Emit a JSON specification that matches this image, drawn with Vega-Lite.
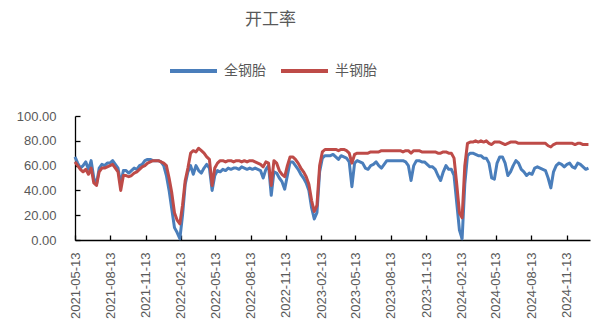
{
  "$schema": "https://vega.github.io/schema/vega-lite/v6.json",
  "width": 515,
  "height": 124,
  "autosize": {"type": "none"},
  "padding": {"left": 75, "top": 116, "right": 2, "bottom": 87},
  "background": "white",
  "title": {"text": "开工率", "frame": "group", "anchor": "middle", "dx": -62, "offset": 16, "font": "Noto Sans CJK SC", "fontSize": 17, "fontWeight": "normal", "color": "#595959"},
  "data": {"values": [
    {"date": "2021-05-13", "全钢胎": 67, "半钢胎": 63},
    {"date": "2021-05-20", "全钢胎": 62, "半钢胎": 60},
    {"date": "2021-05-27", "全钢胎": 58, "半钢胎": 57},
    {"date": "2021-06-03", "全钢胎": 60, "半钢胎": 55},
    {"date": "2021-06-10", "全钢胎": 63, "半钢胎": 57},
    {"date": "2021-06-17", "全钢胎": 57, "半钢胎": 53},
    {"date": "2021-06-24", "全钢胎": 64, "半钢胎": 58},
    {"date": "2021-07-01", "全钢胎": 50, "半钢胎": 46},
    {"date": "2021-07-08", "全钢胎": 45, "半钢胎": 44},
    {"date": "2021-07-15", "全钢胎": 58, "半钢胎": 55},
    {"date": "2021-07-22", "全钢胎": 61, "半钢胎": 58},
    {"date": "2021-07-29", "全钢胎": 60, "半钢胎": 58},
    {"date": "2021-08-05", "全钢胎": 62, "半钢胎": 59},
    {"date": "2021-08-12", "全钢胎": 62, "半钢胎": 60},
    {"date": "2021-08-19", "全钢胎": 64, "半钢胎": 61},
    {"date": "2021-08-26", "全钢胎": 61, "半钢胎": 58},
    {"date": "2021-09-02", "全钢胎": 58, "半钢胎": 55},
    {"date": "2021-09-09", "全钢胎": 45, "半钢胎": 40},
    {"date": "2021-09-16", "全钢胎": 56, "半钢胎": 52},
    {"date": "2021-09-23", "全钢胎": 56, "半钢胎": 52},
    {"date": "2021-09-30", "全钢胎": 54, "半钢胎": 51},
    {"date": "2021-10-07", "全钢胎": 56, "半钢胎": 52},
    {"date": "2021-10-14", "全钢胎": 58, "半钢胎": 54},
    {"date": "2021-10-21", "全钢胎": 57, "半钢胎": 55},
    {"date": "2021-10-28", "全钢胎": 60, "半钢胎": 57},
    {"date": "2021-11-04", "全钢胎": 61, "半钢胎": 59},
    {"date": "2021-11-11", "全钢胎": 64, "半钢胎": 60},
    {"date": "2021-11-18", "全钢胎": 65, "半钢胎": 62},
    {"date": "2021-11-25", "全钢胎": 65, "半钢胎": 63},
    {"date": "2021-12-02", "全钢胎": 64, "半钢胎": 64},
    {"date": "2021-12-09", "全钢胎": 64, "半钢胎": 64},
    {"date": "2021-12-16", "全钢胎": 64, "半钢胎": 64},
    {"date": "2021-12-23", "全钢胎": 63, "半钢胎": 63},
    {"date": "2021-12-30", "全钢胎": 60, "半钢胎": 62},
    {"date": "2022-01-06", "全钢胎": 52, "半钢胎": 60},
    {"date": "2022-01-13", "全钢胎": 40, "半钢胎": 50},
    {"date": "2022-01-20", "全钢胎": 25, "半钢胎": 38},
    {"date": "2022-01-27", "全钢胎": 10, "半钢胎": 22},
    {"date": "2022-02-03", "全钢胎": 6, "半钢胎": 16},
    {"date": "2022-02-10", "全钢胎": 1, "半钢胎": 13},
    {"date": "2022-02-17", "全钢胎": 20, "半钢胎": 28},
    {"date": "2022-02-24", "全钢胎": 45, "半钢胎": 48},
    {"date": "2022-03-03", "全钢胎": 55, "半钢胎": 58},
    {"date": "2022-03-10", "全钢胎": 60, "半钢胎": 70},
    {"date": "2022-03-17", "全钢胎": 53, "半钢胎": 72},
    {"date": "2022-03-24", "全钢胎": 60, "半钢胎": 71},
    {"date": "2022-03-31", "全钢胎": 56, "半钢胎": 74},
    {"date": "2022-04-07", "全钢胎": 54, "半钢胎": 72},
    {"date": "2022-04-14", "全钢胎": 58, "半钢胎": 70},
    {"date": "2022-04-21", "全钢胎": 61, "半钢胎": 67},
    {"date": "2022-04-28", "全钢胎": 58, "半钢胎": 65},
    {"date": "2022-05-05", "全钢胎": 40, "半钢胎": 44},
    {"date": "2022-05-12", "全钢胎": 52, "半钢胎": 58},
    {"date": "2022-05-19", "全钢胎": 56, "半钢胎": 62},
    {"date": "2022-05-26", "全钢胎": 55, "半钢胎": 64},
    {"date": "2022-06-02", "全钢胎": 57, "半钢胎": 64},
    {"date": "2022-06-09", "全钢胎": 56, "半钢胎": 63},
    {"date": "2022-06-16", "全钢胎": 58, "半钢胎": 64},
    {"date": "2022-06-23", "全钢胎": 57, "半钢胎": 64},
    {"date": "2022-06-30", "全钢胎": 58, "半钢胎": 63},
    {"date": "2022-07-07", "全钢胎": 58, "半钢胎": 64},
    {"date": "2022-07-14", "全钢胎": 57, "半钢胎": 64},
    {"date": "2022-07-21", "全钢胎": 59, "半钢胎": 63},
    {"date": "2022-07-28", "全钢胎": 58, "半钢胎": 64},
    {"date": "2022-08-04", "全钢胎": 57, "半钢胎": 63},
    {"date": "2022-08-11", "全钢胎": 58, "半钢胎": 64},
    {"date": "2022-08-18", "全钢胎": 57, "半钢胎": 64},
    {"date": "2022-08-25", "全钢胎": 58, "半钢胎": 63},
    {"date": "2022-09-01", "全钢胎": 57, "半钢胎": 62},
    {"date": "2022-09-08", "全钢胎": 56, "半钢胎": 61},
    {"date": "2022-09-15", "全钢胎": 50, "半钢胎": 59},
    {"date": "2022-09-22", "全钢胎": 57, "半钢胎": 63},
    {"date": "2022-09-29", "全钢胎": 60, "半钢胎": 62},
    {"date": "2022-10-06", "全钢胎": 36, "半钢胎": 44},
    {"date": "2022-10-13", "全钢胎": 55, "半钢胎": 64},
    {"date": "2022-10-20", "全钢胎": 54, "半钢胎": 62},
    {"date": "2022-10-27", "全钢胎": 50, "半钢胎": 56},
    {"date": "2022-11-03", "全钢胎": 47, "半钢胎": 53},
    {"date": "2022-11-10", "全钢胎": 41, "半钢胎": 51},
    {"date": "2022-11-17", "全钢胎": 52, "半钢胎": 60},
    {"date": "2022-11-24", "全钢胎": 63, "半钢胎": 67},
    {"date": "2022-12-01", "全钢胎": 63, "半钢胎": 67},
    {"date": "2022-12-08", "全钢胎": 60, "半钢胎": 65},
    {"date": "2022-12-15", "全钢胎": 57, "半钢胎": 62},
    {"date": "2022-12-22", "全钢胎": 53, "半钢胎": 58},
    {"date": "2022-12-29", "全钢胎": 50, "半钢胎": 55},
    {"date": "2023-01-05", "全钢胎": 46, "半钢胎": 51},
    {"date": "2023-01-12", "全钢胎": 40, "半钢胎": 45},
    {"date": "2023-01-19", "全钢胎": 26, "半钢胎": 32},
    {"date": "2023-01-26", "全钢胎": 17, "半钢胎": 23},
    {"date": "2023-02-02", "全钢胎": 22, "半钢胎": 28},
    {"date": "2023-02-09", "全钢胎": 55, "半钢胎": 60},
    {"date": "2023-02-16", "全钢胎": 66, "半钢胎": 71},
    {"date": "2023-02-23", "全钢胎": 68, "半钢胎": 73},
    {"date": "2023-03-02", "全钢胎": 68, "半钢胎": 73},
    {"date": "2023-03-09", "全钢胎": 68, "半钢胎": 73},
    {"date": "2023-03-16", "全钢胎": 69, "半钢胎": 73},
    {"date": "2023-03-23", "全钢胎": 67, "半钢胎": 73},
    {"date": "2023-03-30", "全钢胎": 65, "半钢胎": 72},
    {"date": "2023-04-06", "全钢胎": 68, "半钢胎": 73},
    {"date": "2023-04-13", "全钢胎": 67, "半钢胎": 73},
    {"date": "2023-04-20", "全钢胎": 66, "半钢胎": 72},
    {"date": "2023-04-27", "全钢胎": 63, "半钢胎": 70},
    {"date": "2023-05-04", "全钢胎": 43, "半钢胎": 62},
    {"date": "2023-05-11", "全钢胎": 62, "半钢胎": 69},
    {"date": "2023-05-18", "全钢胎": 64, "半钢胎": 70},
    {"date": "2023-05-25", "全钢胎": 63, "半钢胎": 70},
    {"date": "2023-06-01", "全钢胎": 62, "半钢胎": 70},
    {"date": "2023-06-08", "全钢胎": 58, "半钢胎": 70},
    {"date": "2023-06-15", "全钢胎": 57, "半钢胎": 70},
    {"date": "2023-06-22", "全钢胎": 60, "半钢胎": 71},
    {"date": "2023-06-29", "全钢胎": 61, "半钢胎": 71},
    {"date": "2023-07-06", "全钢胎": 63, "半钢胎": 71},
    {"date": "2023-07-13", "全钢胎": 60, "半钢胎": 71},
    {"date": "2023-07-20", "全钢胎": 58, "半钢胎": 72},
    {"date": "2023-07-27", "全钢胎": 61, "半钢胎": 72},
    {"date": "2023-08-03", "全钢胎": 64, "半钢胎": 72},
    {"date": "2023-08-10", "全钢胎": 64, "半钢胎": 72},
    {"date": "2023-08-17", "全钢胎": 64, "半钢胎": 72},
    {"date": "2023-08-24", "全钢胎": 64, "半钢胎": 72},
    {"date": "2023-08-31", "全钢胎": 64, "半钢胎": 72},
    {"date": "2023-09-07", "全钢胎": 64, "半钢胎": 72},
    {"date": "2023-09-14", "全钢胎": 64, "半钢胎": 71},
    {"date": "2023-09-21", "全钢胎": 63, "半钢胎": 72},
    {"date": "2023-09-28", "全钢胎": 60, "半钢胎": 72},
    {"date": "2023-10-05", "全钢胎": 48, "半钢胎": 70},
    {"date": "2023-10-12", "全钢胎": 60, "半钢胎": 72},
    {"date": "2023-10-19", "全钢胎": 64, "半钢胎": 72},
    {"date": "2023-10-26", "全钢胎": 64, "半钢胎": 72},
    {"date": "2023-11-02", "全钢胎": 63, "半钢胎": 71},
    {"date": "2023-11-09", "全钢胎": 63, "半钢胎": 71},
    {"date": "2023-11-16", "全钢胎": 61, "半钢胎": 71},
    {"date": "2023-11-23", "全钢胎": 59, "半钢胎": 71},
    {"date": "2023-11-30", "全钢胎": 59, "半钢胎": 71},
    {"date": "2023-12-07", "全钢胎": 57, "半钢胎": 71},
    {"date": "2023-12-14", "全钢胎": 52, "半钢胎": 70},
    {"date": "2023-12-21", "全钢胎": 48, "半钢胎": 70},
    {"date": "2023-12-28", "全钢胎": 55, "半钢胎": 71},
    {"date": "2024-01-04", "全钢胎": 60, "半钢胎": 71},
    {"date": "2024-01-11", "全钢胎": 57, "半钢胎": 70},
    {"date": "2024-01-18", "全钢胎": 57, "半钢胎": 70},
    {"date": "2024-01-25", "全钢胎": 52, "半钢胎": 66},
    {"date": "2024-02-01", "全钢胎": 30, "半钢胎": 45},
    {"date": "2024-02-08", "全钢胎": 8, "半钢胎": 22},
    {"date": "2024-02-15", "全钢胎": 1, "半钢胎": 18},
    {"date": "2024-02-22", "全钢胎": 45, "半钢胎": 60},
    {"date": "2024-02-29", "全钢胎": 68, "半钢胎": 78},
    {"date": "2024-03-07", "全钢胎": 70, "半钢胎": 79},
    {"date": "2024-03-14", "全钢胎": 70, "半钢胎": 79},
    {"date": "2024-03-21", "全钢胎": 69, "半钢胎": 80},
    {"date": "2024-03-28", "全钢胎": 68, "半钢胎": 79},
    {"date": "2024-04-04", "全钢胎": 68, "半钢胎": 80},
    {"date": "2024-04-11", "全钢胎": 66, "半钢胎": 79},
    {"date": "2024-04-18", "全钢胎": 66, "半钢胎": 80},
    {"date": "2024-04-25", "全钢胎": 62, "半钢胎": 78},
    {"date": "2024-05-02", "全钢胎": 50, "半钢胎": 77},
    {"date": "2024-05-09", "全钢胎": 49, "半钢胎": 79},
    {"date": "2024-05-16", "全钢胎": 62, "半钢胎": 79},
    {"date": "2024-05-23", "全钢胎": 67, "半钢胎": 79},
    {"date": "2024-05-30", "全钢胎": 67, "半钢胎": 78},
    {"date": "2024-06-06", "全钢胎": 62, "半钢胎": 77},
    {"date": "2024-06-13", "全钢胎": 52, "半钢胎": 78},
    {"date": "2024-06-20", "全钢胎": 55, "半钢胎": 79},
    {"date": "2024-06-27", "全钢胎": 60, "半钢胎": 79},
    {"date": "2024-07-04", "全钢胎": 64, "半钢胎": 79},
    {"date": "2024-07-11", "全钢胎": 62, "半钢胎": 78},
    {"date": "2024-07-18", "全钢胎": 57, "半钢胎": 78},
    {"date": "2024-07-25", "全钢胎": 55, "半钢胎": 78},
    {"date": "2024-08-01", "全钢胎": 52, "半钢胎": 78},
    {"date": "2024-08-08", "全钢胎": 54, "半钢胎": 78},
    {"date": "2024-08-15", "全钢胎": 53, "半钢胎": 78},
    {"date": "2024-08-22", "全钢胎": 58, "半钢胎": 78},
    {"date": "2024-08-29", "全钢胎": 59, "半钢胎": 78},
    {"date": "2024-09-05", "全钢胎": 58, "半钢胎": 78},
    {"date": "2024-09-12", "全钢胎": 57, "半钢胎": 78},
    {"date": "2024-09-19", "全钢胎": 56, "半钢胎": 78},
    {"date": "2024-09-26", "全钢胎": 50, "半钢胎": 76},
    {"date": "2024-10-03", "全钢胎": 42, "半钢胎": 75},
    {"date": "2024-10-10", "全钢胎": 55, "半钢胎": 77},
    {"date": "2024-10-17", "全钢胎": 60, "半钢胎": 78},
    {"date": "2024-10-24", "全钢胎": 62, "半钢胎": 78},
    {"date": "2024-10-31", "全钢胎": 61, "半钢胎": 78},
    {"date": "2024-11-07", "全钢胎": 59, "半钢胎": 78},
    {"date": "2024-11-14", "全钢胎": 61, "半钢胎": 78},
    {"date": "2024-11-21", "全钢胎": 62, "半钢胎": 78},
    {"date": "2024-11-28", "全钢胎": 59, "半钢胎": 78},
    {"date": "2024-12-05", "全钢胎": 58, "半钢胎": 77},
    {"date": "2024-12-12", "全钢胎": 62, "半钢胎": 78},
    {"date": "2024-12-19", "全钢胎": 61, "半钢胎": 78},
    {"date": "2024-12-26", "全钢胎": 59, "半钢胎": 77},
    {"date": "2025-01-02", "全钢胎": 57, "半钢胎": 77},
    {"date": "2025-01-09", "全钢胎": 58, "半钢胎": 77}
  ]},
  "transform": [{"fold": ["全钢胎", "半钢胎"], "as": ["series", "value"]}],
  "mark": {"type": "line", "strokeWidth": 3, "strokeJoin": "round"},
  "encoding": {
    "x": {
      "field": "date", "type": "temporal",
      "scale": {"type": "utc", "domain": [{"year": 2021, "month": 5, "date": 13, "utc": true}, {"year": 2025, "month": 1, "date": 13, "utc": true}]},
      "axis": {
        "values": [
          {"year": 2021, "month": 5, "date": 13, "utc": true},
          {"year": 2021, "month": 8, "date": 13, "utc": true},
          {"year": 2021, "month": 11, "date": 13, "utc": true},
          {"year": 2022, "month": 2, "date": 13, "utc": true},
          {"year": 2022, "month": 5, "date": 13, "utc": true},
          {"year": 2022, "month": 8, "date": 13, "utc": true},
          {"year": 2022, "month": 11, "date": 13, "utc": true},
          {"year": 2023, "month": 2, "date": 13, "utc": true},
          {"year": 2023, "month": 5, "date": 13, "utc": true},
          {"year": 2023, "month": 8, "date": 13, "utc": true},
          {"year": 2023, "month": 11, "date": 13, "utc": true},
          {"year": 2024, "month": 2, "date": 13, "utc": true},
          {"year": 2024, "month": 5, "date": 13, "utc": true},
          {"year": 2024, "month": 8, "date": 13, "utc": true},
          {"year": 2024, "month": 11, "date": 13, "utc": true}
        ],
        "format": "%Y-%m-%d",
        "labelAngle": -90, "labelFont": "Liberation Sans", "labelFontSize": 13, "labelColor": "#595959",
        "labelPadding": 17, "tickSize": -5, "tickColor": "#000000", "tickWidth": 1.3,
        "domainColor": "#000000", "domainWidth": 1.3, "grid": false, "title": null,
        "labelFlush": false, "labelOverlap": false
      }
    },
    "y": {
      "field": "value", "type": "quantitative",
      "scale": {"domain": [0, 100], "nice": false, "zero": true},
      "axis": {
        "values": [0, 20, 40, 60, 80, 100], "format": ".2f",
        "labelFont": "Liberation Sans", "labelFontSize": 13, "labelColor": "#595959",
        "labelPadding": 24, "tickSize": -5, "tickColor": "#000000", "tickWidth": 1.3,
        "domainColor": "#000000", "domainWidth": 1.3, "grid": false, "title": null
      }
    },
    "color": {
      "field": "series", "type": "nominal",
      "scale": {"domain": ["全钢胎", "半钢胎"], "range": ["#4A7EBB", "#BE4B48"]},
      "legend": {
        "orient": "none", "legendX": 93, "legendY": -70.7, "direction": "horizontal", "title": null,
        "symbolType": "stroke", "symbolSize": 2209, "symbolStrokeWidth": 4,
        "labelFont": "Noto Sans CJK SC", "labelFontSize": 14, "labelColor": "#595959",
        "labelOffset": 5, "columnPadding": 7, "padding": 0
      }
    }
  },
  "config": {"view": {"stroke": null}}
}
